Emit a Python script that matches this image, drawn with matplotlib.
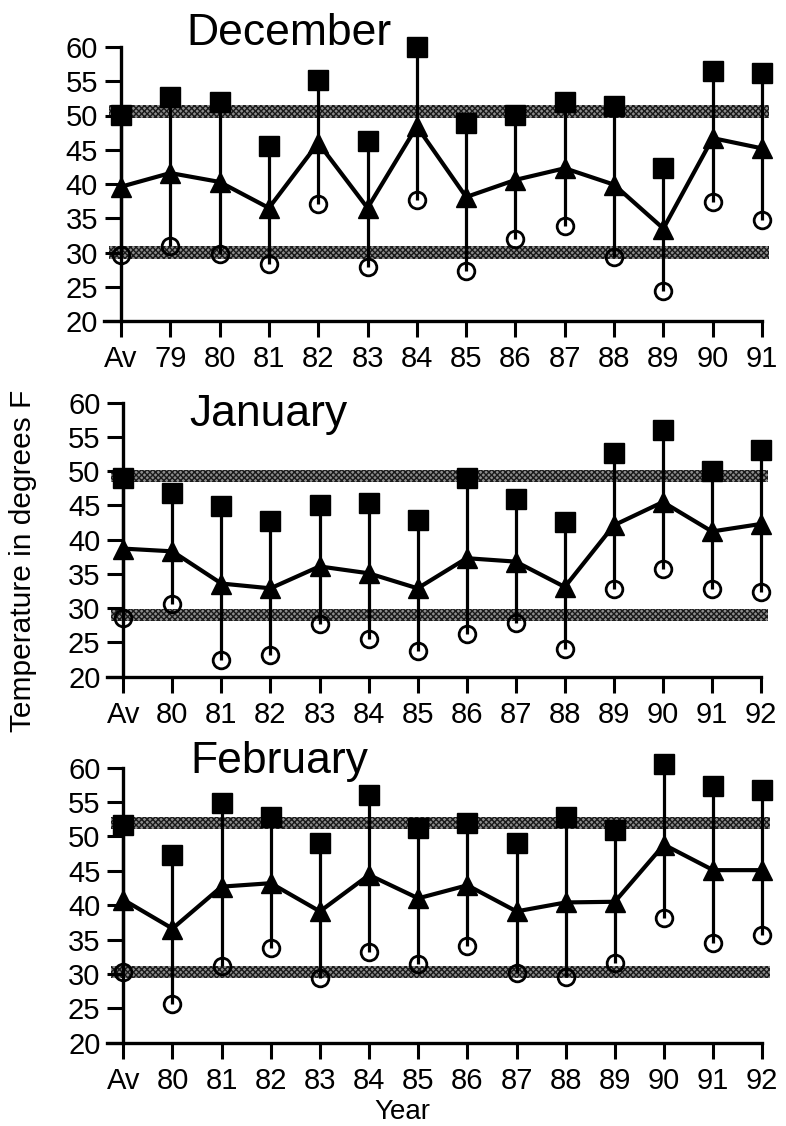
import matplotlib
matplotlib.use('Agg')
import matplotlib.pyplot as plt

plt.rcParams['font.family'] = ['Liberation Sans', 'DejaVu Sans']

# ── data (degrees F) ─────────────────────────────────────────────────
dec_years = ['Av', '79', '80', '81', '82', '83', '84', '85', '86', '87', '88', '89', '90', '91']
dec_high = [50.1, 52.7, 52.0, 45.6, 55.2, 46.3, 60.0, 48.9, 50.1, 52.0, 51.4, 42.4, 56.5, 56.2]
dec_mean = [39.6, 41.6, 40.3, 36.5, 46.0, 36.5, 48.4, 38.1, 40.6, 42.3, 39.9, 33.5, 46.7, 45.2]
dec_low = [29.6, 30.9, 29.8, 28.3, 37.1, 27.9, 37.7, 27.3, 31.9, 33.8, 29.3, 24.4, 37.4, 34.8]
dec_bands = [50.6, 30.0]

jan_years = ['Av', '80', '81', '82', '83', '84', '85', '86', '87', '88', '89', '90', '91', '92']
jan_high = [49.0, 46.8, 44.9, 42.7, 45.0, 45.4, 42.9, 49.0, 45.9, 42.6, 52.6, 56.0, 50.1, 53.1]
jan_mean = [38.7, 38.3, 33.6, 32.9, 36.1, 35.1, 32.9, 37.3, 36.8, 33.1, 42.1, 45.5, 41.2, 42.3]
jan_low = [28.5, 30.6, 22.4, 23.2, 27.7, 25.5, 23.8, 26.3, 27.9, 24.0, 32.8, 35.7, 32.8, 32.4]
jan_bands = [49.3, 29.0]

feb_years = ['Av', '80', '81', '82', '83', '84', '85', '86', '87', '88', '89', '90', '91', '92']
feb_high = [51.7, 47.3, 54.8, 52.8, 49.0, 56.0, 51.2, 51.9, 49.1, 52.8, 50.9, 60.6, 57.3, 56.7]
feb_mean = [40.8, 36.6, 42.7, 43.2, 39.1, 44.4, 41.0, 42.9, 39.1, 40.4, 40.5, 48.8, 45.1, 45.1]
feb_low = [30.3, 25.7, 31.1, 33.8, 29.4, 33.2, 31.5, 34.1, 30.1, 29.6, 31.6, 38.2, 34.5, 35.7]
feb_bands = [52.0, 30.3]

yticks = [20, 25, 30, 35, 40, 45, 50, 55, 60]

W, H = 786, 1126
fig = plt.figure(figsize=(W / 100, H / 100), dpi=100)

# pixel layout: x of first tick, x of last tick, y of 60, y of 20, title left, title baseline
panels = [
    ('December', dec_years, dec_high, dec_mean, dec_low, dec_bands, (121, 762, 47, 321, 186, 45)),
    ('January', jan_years, jan_high, jan_mean, jan_low, jan_bands, (123.3, 761, 402.7, 676.7, 189, 426)),
    ('February', feb_years, feb_high, feb_mean, feb_low, feb_bands, (123.3, 762.3, 767.7, 1042.7, 190, 773)),
]

X0, X1 = -0.4, 13.25

for title, years, high, mean, low, bands, (xl, xr, yt, yb, tx, ty) in panels:
    unit = (xr - xl) / 13.0
    left_px = xl + X0 * unit
    right_px = xr + (X1 - 13) * unit
    ax = fig.add_axes([left_px / W, 1 - yb / H, (right_px - left_px) / W, (yb - yt) / H])
    ax.set_xlim(X0, X1)
    ax.set_ylim(20, 60)
    x = list(range(len(years)))

    # normal-range bands
    for c in bands:
        ax.fill_between([-0.25, 13.15], c - 0.9, c + 0.9, facecolor='#8c8c8c',
                        edgecolor='#1a1a1a', hatch='xxxxxx', linewidth=0, zorder=1)

    ax.vlines(x, low, high, colors='black', linewidth=2.3, zorder=2)
    ax.plot(x, mean, '-', color='black', linewidth=3.0, zorder=3)
    ax.plot(x, high, 's', color='black', markersize=14, zorder=4, clip_on=False)
    ax.plot(x, mean, '^', color='black', markersize=15, zorder=4, clip_on=False)
    ax.plot(x, low, 'o', mfc='none', mec='black', mew=2.0, markersize=12, zorder=4, clip_on=False)

    for s in ('top', 'right'):
        ax.spines[s].set_visible(False)
    ax.spines['left'].set_position(('data', 0))
    ax.spines['left'].set_bounds(20, 60)
    ax.spines['bottom'].set_bounds(-0.34, 13)
    for s in ('left', 'bottom'):
        ax.spines[s].set_linewidth(2.4)

    ax.set_yticks(yticks)
    ax.set_xticks(x)
    ax.set_xticklabels(years)
    ax.tick_params(axis='y', direction='out', length=11.5, width=2.2, pad=5, labelsize=21)
    ax.tick_params(axis='x', direction='out', length=11.5, width=2.2, pad=6, labelsize=21)

    fig.text(tx / W, 1 - ty / H, title, ha='left', va='baseline', fontsize=32)

fig.text(23 / W, 1 - 561 / H, 'Temperature in degrees F', rotation=90,
         ha='center', va='center', fontsize=21.5)
fig.text(402 / W, 1 - 1119 / H, 'Year', ha='center', va='baseline', fontsize=20)

fig.savefig('out.png', dpi=100)
